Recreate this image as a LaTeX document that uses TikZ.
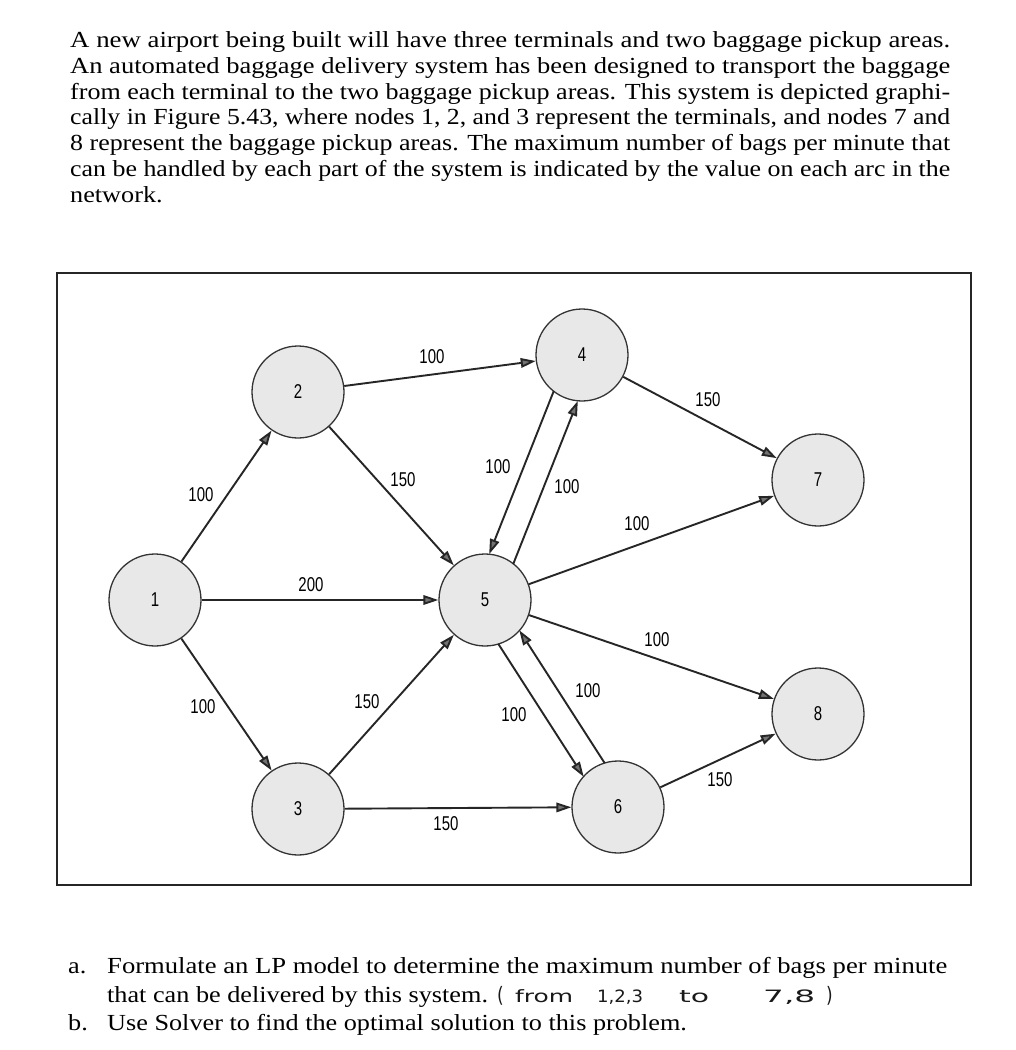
\documentclass[tikz,border=0pt]{standalone}
\usepackage{fontspec}
\setmainfont{Liberation Serif}
\newfontfamily\lblfam{Liberation Sans}
\newfontfamily\handfam{DejaVu Sans}
\usetikzlibrary{arrows.meta,calc}
\newcommand\cond[1]{\scalebox{0.75}[1]{#1}}
\newcommand\fitline[1]{\resizebox{880pt}{\height}{#1}}
\newcommand\wide[1]{\scalebox{1.14}[1]{#1}}
\begin{document}
\begin{tikzpicture}[x=1pt,y=-1pt,
  txt/.style={anchor=base west,inner sep=0pt,font=\fontsize{23pt}{26pt}\selectfont},
  vert/.style={circle,minimum size=92pt,inner sep=0pt,draw=black!80,line width=1.3pt,fill=black!9,
    font=\lblfam\fontsize{20pt}{20pt}\selectfont},
  arc/.style={draw=black!85,line width=1.9pt,-{Triangle[length=15pt,width=9.5pt,fill=black!55]}},
  lbl/.style={inner sep=0pt,font=\lblfam\fontsize{20pt}{20pt}\selectfont},
  hand/.style={anchor=base west,inner sep=0pt,text=black!90,font=\handfam\fontsize{17pt}{17pt}\selectfont}]
\useasboundingbox (0,0) rectangle (1016,1050);
\fill[white] (0,0) rectangle (1016,1050);
% top paragraph
\node[txt] (t1) at (70,47) {\fitline{A new airport being built will have three terminals and two baggage pickup areas.}};
\node[txt] (t2) at (70,73) {\fitline{An automated baggage delivery system has been designed to transport the baggage}};
\node[txt] (t3) at (70,99) {\fitline{from each terminal to the two baggage pickup areas. This system is depicted graphi-}};
\node[txt] (t4) at (70,124) {\fitline{cally in Figure 5.43, where nodes 1, 2, and 3 represent the terminals, and nodes 7 and}};
\node[txt] (t5) at (70,150) {\fitline{8 represent the baggage pickup areas. The maximum number of bags per minute that}};
\node[txt] (t6) at (70,176) {\fitline{can be handled by each part of the system is indicated by the value on each arc in the}};
\node[txt] (t7) at (70,202) {\wide{network.}};
% frame
\draw[black!85,line width=1.5pt] (57,273) rectangle (971,885);
% vertices
\node[vert] (n1) at (155,600) {\cond{1}};
\node[vert] (n2) at (298,392) {\cond{2}};
\node[vert] (n3) at (298,809) {\cond{3}};
\node[vert] (n4) at (582,355) {\cond{4}};
\node[vert] (n5) at (485,600) {\cond{5}};
\node[vert] (n6) at (618,807) {\cond{6}};
\node[vert] (n7) at (818,480) {\cond{7}};
\node[vert] (n8) at (818,714) {\cond{8}};
% arcs
\draw[arc] (n1) -- (n2);
\draw[arc] (n1) -- (n5);
\draw[arc] (n1) -- (n3);
\draw[arc] (n2) -- (n4);
\draw[arc] (n2) -- (n5);
\draw[arc] (n3) -- (n5);
\draw[arc] (n3) -- (n6);
\draw[arc,shorten <=44pt,shorten >=44pt] ([shift={(-12,-5)}]n4.center) -- ([shift={(-12,-5)}]n5.center);
\draw[arc,shorten <=44pt,shorten >=44pt] ([shift={(12,5)}]n5.center) -- ([shift={(12,5)}]n4.center);
\draw[arc,shorten <=44pt,shorten >=44pt] ([shift={(-10.5,6.8)}]n5.center) -- ([shift={(-10.5,6.8)}]n6.center);
\draw[arc,shorten <=44pt,shorten >=44pt] ([shift={(10.5,-6.8)}]n6.center) -- ([shift={(10.5,-6.8)}]n5.center);
\draw[arc] (n4) -- (n7);
\draw[arc] (n5) -- (n7);
\draw[arc] (n5) -- (n8);
\draw[arc] (n6) -- (n8);
% labels
\node[lbl] (l12) at (201,495) {\cond{100}};
\node[lbl] (l24) at (432,357) {\cond{100}};
\node[lbl] (l25) at (403,480) {\cond{150}};
\node[lbl] (l15) at (311,585) {\cond{200}};
\node[lbl] (l45) at (498,467) {\cond{100}};
\node[lbl] (l54) at (567,487) {\cond{100}};
\node[lbl] (l47) at (708,400) {\cond{150}};
\node[lbl] (l57) at (637,524) {\cond{100}};
\node[lbl] (l13) at (203,707) {\cond{100}};
\node[lbl] (l35) at (367,702) {\cond{150}};
\node[lbl] (l36) at (446,824) {\cond{150}};
\node[lbl] (l56) at (514,715) {\cond{100}};
\node[lbl] (l65) at (588,691) {\cond{100}};
\node[lbl] (l58) at (657,640) {\cond{100}};
\node[lbl] (l68) at (720,780) {\cond{150}};
% questions
\node[txt] (qa) at (68,973) {\wide{a.}};
\node[txt] (qa1) at (107,973) {\resizebox{840pt}{\height}{Formulate an LP model to determine the maximum number of bags per minute}};
\node[txt] (qa2) at (107,1002) {\wide{that can be delivered by this system.}};
\node[hand] (h1) at (497,1002) {\scalebox{1}[1.25]{(}};
\node[hand] (h2) at (515,1002) {\resizebox{58pt}{\height}{from}};
\node[hand] (h3) at (597,1002) {\resizebox{46pt}{\height}{1,2,3}};
\node[hand] (h4) at (679,1002) {\resizebox{30pt}{\height}{to}};
\node[hand] (h5) at (763,1002) {\resizebox{52pt}{\height}{7,8}};
\node[hand] (h6) at (826,1002) {\scalebox{1}[1.25]{)}};
\node[txt] (qb) at (68,1030) {\wide{b.}};
\node[txt] (qb1) at (107,1030) {\wide{Use Solver to find the optimal solution to this problem.}};
\end{tikzpicture}
\end{document}
